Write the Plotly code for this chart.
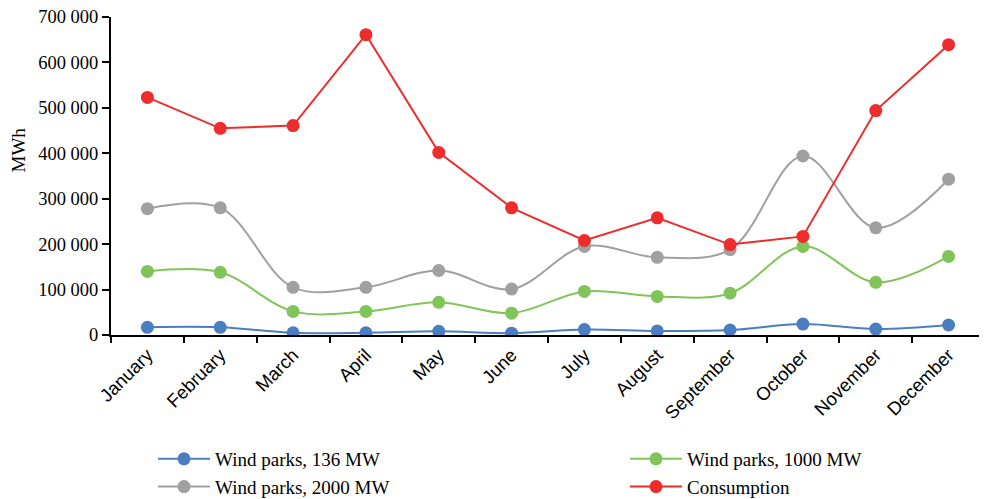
import plotly.graph_objects as go

months = ["January", "February", "March", "April", "May", "June", "July",
          "August", "September", "October", "November", "December"]
wind_136 = [17000, 17000, 5000, 5000, 8000, 4000, 12000, 9000, 11000, 24000, 13000, 22000]
wind_1000 = [140000, 138000, 52000, 52000, 72000, 48000, 96000, 85000, 92000, 195000, 116000, 173000]
wind_2000 = [278000, 280000, 105000, 105000, 142000, 101000, 195000, 171000, 188000, 394000, 236000, 343000]
consumption = [523000, 455000, 461000, 661000, 402000, 280000, 208000, 258000, 199000, 217000, 494000, 639000]
y_ticks = [0, 100000, 200000, 300000, 400000, 500000, 600000, 700000]
y_tick_labels = ["0", "100 000", "200 000", "300 000", "400 000", "500 000", "600 000", "700 000"]

series = [
    ("Wind parks, 136 MW", wind_136, "#4a7ec0", "spline", "legend"),
    ("Wind parks, 1000 MW", wind_1000, "#80c45a", "spline", "legend2"),
    ("Wind parks, 2000 MW", wind_2000, "#a0a0a0", "spline", "legend"),
    ("Consumption", consumption, "#ee2c2c", "linear", "legend2"),
]

fig = go.Figure()
for name, vals, color, shape, leg in series:
    fig.add_trace(go.Scatter(
        x=months, y=vals, name=name, mode="lines+markers",
        line=dict(color=color, width=2, shape=shape, smoothing=1),
        marker=dict(color=color, size=13),
        legend=leg,
    ))

serif = "Liberation Serif, Times New Roman, serif"
sans = "Liberation Sans, Arial, sans-serif"
W, H = 979, 491
ML, MR, MT, MB = 103, 2, 9, 164
PW, PH = W - ML - MR, H - MT - MB
legend_common = dict(
    orientation="v", xref="paper", yref="paper",
    yanchor="top", xanchor="left",
    font=dict(family=serif, size=19, color="black"),
    tracegroupgap=0, bgcolor="rgba(0,0,0,0)", itemwidth=52,
)
leg_top = (H - MB - 432) / PH
fig.update_layout(
    width=W, height=H,
    margin=dict(l=ML, r=MR, t=MT, b=MB, autoexpand=False),
    paper_bgcolor="white", plot_bgcolor="white",
    font=dict(family=serif, size=18.5, color="black"),
    showlegend=True,
    legend=dict(x=(145 - ML) / PW, y=leg_top, **legend_common),
    legend2=dict(x=(617 - ML) / PW, y=leg_top, **legend_common),
    xaxis=dict(
        type="category", range=[-0.5, len(months) - 0.5],
        showline=True, linecolor="black", linewidth=2,
        ticks="outside", tickson="boundaries", ticklen=6, tickwidth=2, tickcolor="black",
        tickangle=-45, showgrid=False, zeroline=False,
        tickfont=dict(family=sans, size=18.5, color="black"),
    ),
    yaxis=dict(
        range=[0, 700000], tickvals=y_ticks, ticktext=y_tick_labels,
        showline=True, linecolor="black", linewidth=2,
        ticks="outside", ticklen=7, tickwidth=2, tickcolor="black",
        showgrid=False, zeroline=False, ticklabeloverflow="allow",
        tickfont=dict(family=serif, size=18.5, color="black"),
    ),
    annotations=[dict(
        text="MWh", xref="paper", yref="paper",
        x=(9.5 - ML) / PW, y=(H - MB - 142) / PH,
        xanchor="center", yanchor="middle", textangle=-90, showarrow=False,
        font=dict(family=serif, size=19, color="black"),
    )],
)

fig.write_html("out.html")
